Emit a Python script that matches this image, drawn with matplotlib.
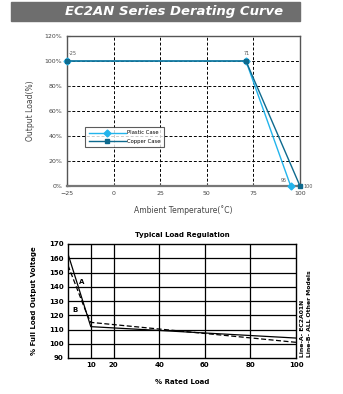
import matplotlib
matplotlib.use("Agg")
import matplotlib.pyplot as plt
from matplotlib.patches import Rectangle

W, H = 343, 394
# --- data ---
temp_plastic = [-25, 71, 95]
load_plastic = [100, 100, 0]
temp_copper = [-25, 71, 100]
load_copper = [100, 100, 0]
temp_ticks = [-25, 0, 25, 50, 75, 100]
load_ticks = [0, 20, 40, 60, 80, 100, 120]

reg_x_A = [0, 10, 100]
reg_y_A = [163, 112, 104]
reg_x_B = [0, 8, 10, 100]
reg_y_B = [155, 122, 115, 101]
reg_xticks = [10, 20, 40, 60, 80, 100]
reg_yticks = [90, 100, 110, 120, 130, 140, 150, 160, 170]

fig = plt.figure(figsize=(W / 100, H / 100), dpi=100)

def ax_rect(l, t, r, b):
    return [l / W, 1 - b / H, (r - l) / W, (b - t) / H]

# banner
fig.patches.append(Rectangle((11 / W, 1 - 21 / H), 289 / W, 19 / H,
                             transform=fig.transFigure, color="#6e6e6e", zorder=0))
fig.text(174 / W, 1 - 11.5 / H, "EC2AN Series Derating Curve", color="white",
         fontsize=9.5, fontweight="bold", fontstyle="italic", ha="center", va="center")

# --- top chart ---
ax = fig.add_axes(ax_rect(67, 36, 300, 186))
ax.set_xlim(-25, 100)
ax.set_ylim(0, 120)
ax.set_xticks(temp_ticks)
ax.set_yticks(load_ticks)
ax.set_yticklabels([f"{v}%" for v in load_ticks])
ax.tick_params(labelsize=4.5, colors="#444444", length=2, width=0.8, direction="in")
for s in ax.spines.values():
    s.set_color("#555555")
    s.set_linewidth(1.0)
ax.spines["bottom"].set_linewidth(1.6)
ax.spines["bottom"].set_color("#777777")
for v in [0, 25, 50, 75]:
    ax.axvline(v, color="black", ls=(0, (3, 2)), lw=0.7, zorder=1)
for v in [20, 40, 60, 80, 100]:
    ax.axhline(v, color="black", ls=(0, (3, 2)), lw=0.7, zorder=1)
ax.plot(temp_plastic, load_plastic, color="#22b4ec", lw=1.0, marker="D", ms=3.5,
        label="Plastic Case", zorder=3, clip_on=False)
ax.plot(temp_copper, load_copper, color="#0e6a8e", lw=1.0, marker="s", ms=3.5,
        label="Copper Case", zorder=4, clip_on=False)
ax.text(-24, 104, "-25", fontsize=3.5, color="#555555", va="bottom")
ax.text(70, 104, "71", fontsize=3.5, color="#555555", va="bottom")
ax.text(93, 2, "95", fontsize=3.5, color="#555555", ha="right", va="bottom")
ax.text(102, 0, "100", fontsize=3.5, color="#555555", ha="left", va="center")
leg = ax.legend(loc="lower left", bbox_to_anchor=(0.068, 0.24), fontsize=3.8,
                frameon=True, fancybox=False, edgecolor="#333333", handlelength=7,
                borderpad=0.6, labelspacing=0.7, handletextpad=0.3)
leg.get_frame().set_linewidth(0.8)
ax.set_ylabel("Output Load(%)", fontsize=5.5, color="#444444", labelpad=7)
ax.set_xlabel("Ambient Temperature(˚C)", fontsize=5.5, color="#444444", labelpad=7)

# --- bottom chart ---
bx = fig.add_axes(ax_rect(68, 244, 296, 358))
bx.set_xlim(0, 100)
bx.set_ylim(90, 170)
bx.set_xticks(reg_xticks)
bx.set_yticks(reg_yticks)
bx.tick_params(labelsize=5, length=0, pad=3)
for lab in bx.get_xticklabels() + bx.get_yticklabels():
    lab.set_fontweight("bold")
for s in bx.spines.values():
    s.set_color("black")
    s.set_linewidth(1.0)
for v in [10, 20, 40, 60, 80]:
    bx.axvline(v, color="black", lw=0.9, zorder=1)
for v in [100, 110, 120, 130, 140, 150, 160]:
    bx.axhline(v, color="black", lw=0.9, zorder=1)
bx.plot(reg_x_A, reg_y_A, color="black", lw=0.9, zorder=3)
bx.plot(reg_x_B, reg_y_B, color="black", lw=0.9, ls=(0, (4, 2)), zorder=3)
bx.text(6, 143, "A", fontsize=5, fontweight="bold", ha="center", va="center")
bx.text(3, 124, "B", fontsize=5, fontweight="bold", ha="center", va="center")
bx.set_title("Typical Load Regulation", fontsize=5, fontweight="bold", pad=5)
bx.set_xlabel("% Rated Load", fontsize=5, fontweight="bold", labelpad=8)
bx.set_ylabel("% Full Load Output Voltage", fontsize=5, fontweight="bold", labelpad=9)
fig.text(303 / W, 1 - 357 / H, "Line-A- EC2A01N", fontsize=4.4, fontweight="bold",
         rotation=90, ha="center", va="bottom")
fig.text(309.5 / W, 1 - 357 / H, "Line-B- ALL Other Models", fontsize=4.4, fontweight="bold",
         rotation=90, ha="center", va="bottom")

fig.savefig("out.png", dpi=100, facecolor="white")
